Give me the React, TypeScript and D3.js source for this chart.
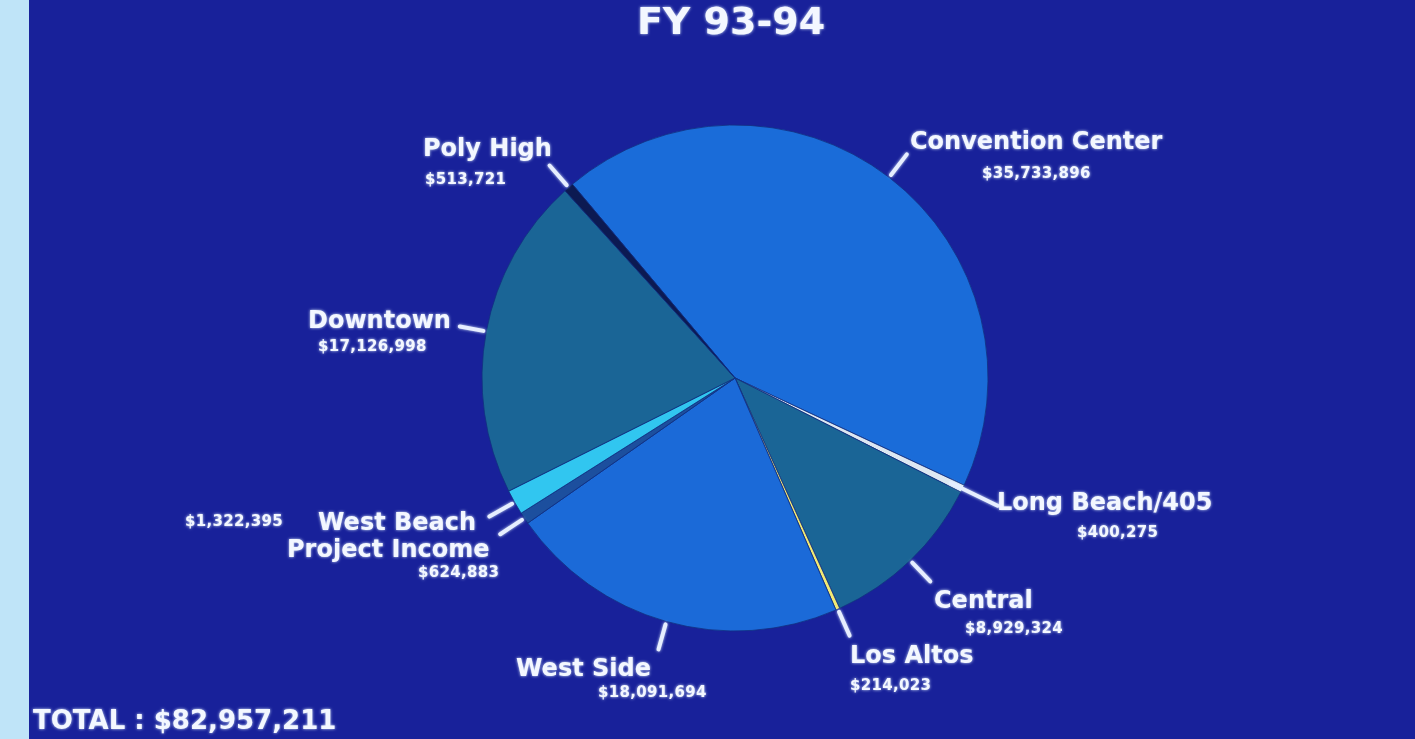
import React from "react";
import * as d3 from "d3";

const categories = [
  "Convention Center",
  "Long Beach/405",
  "Central",
  "Los Altos",
  "West Side",
  "Project Income",
  "West Beach",
  "Downtown",
  "Poly High",
];
const amounts = [35733896, 400275, 8929324, 214023, 18091694, 624883, 1322395, 17126998, 513721];
const sliceColors = ["#1a6cd9", "#dde8f2", "#1a6596", "#f2ea74", "#1b6ad8", "#1c4f9e", "#31c6f0", "#1a6596", "#0c1a52"];
const titleText = "FY 93-94";
const totalText = "TOTAL : $82,957,211";

// label layout (name position, value position, leader radii)
const labelLayout = [
  { nx: 910, ny: 149, vx: 982, vy: 178, r0: 256, r1: 282 },
  { nx: 997, ny: 510, vx: 1077, vy: 537, r0: 240, r1: 292 },
  { nx: 934, ny: 608, vx: 965, vy: 633, r0: 256, r1: 282 },
  { nx: 850, ny: 663, vx: 850, vy: 690, r0: 256, r1: 282 },
  { nx: 516, ny: 676, vx: 598, vy: 697, r0: 256, r1: 282 },
  { nx: 287, ny: 557, vx: 418, vy: 577, r0: 256, r1: 282 },
  { nx: 318, ny: 530, vx: 185, vy: 526, r0: 256, r1: 282 },
  { nx: 308, ny: 328, vx: 318, vy: 351, r0: 256, r1: 280 },
  { nx: 423, ny: 156, vx: 425, vy: 184, r0: 256, r1: 282 },
];

const W = 1415;
const H = 739;
const cx = 735;
const cy = 378;
const R = 253;

export default function App() {
  const fmt = d3.format("$,");
  const start = (-40 * Math.PI) / 180;
  const pie = d3
    .pie<number>()
    .sort(null)
    .value((d) => d)
    .startAngle(start)
    .endAngle(start + 2 * Math.PI);
  const arcs = pie(amounts);
  const arc = d3.arc<d3.PieArcDatum<number>>().innerRadius(0).outerRadius(R);
  const nameFont = "'DejaVu Sans', Arial, sans-serif";
  const textFill = "#f3f7ff";

  return (
    <div style={{ position: "absolute", left: 0, top: 0, width: W, height: H, overflow: "hidden" }}>
      <svg width={W} height={H} style={{ display: "block" }}>
        <defs>
          <filter id="glow" x="-10%" y="-30%" width="120%" height="160%">
            <feGaussianBlur in="SourceGraphic" stdDeviation="1.6" result="b" />
            <feColorMatrix
              in="b"
              type="matrix"
              values="0 0 0 0 0.75  0 0 0 0 0.88  0 0 0 0 1  0 0 0 0.9 0"
              result="c"
            />
            <feMerge>
              <feMergeNode in="c" />
              <feMergeNode in="SourceGraphic" />
            </feMerge>
          </filter>
        </defs>
        <rect x={0} y={0} width={W} height={H} fill="#18219a" />
        <rect x={0} y={0} width={29} height={H} fill="#bfe4f8" />

        <g transform={`translate(${cx},${cy})`}>
          {arcs.map((a, i) => (
            <path key={i} d={arc(a) || ""} fill={sliceColors[i]} stroke="#123080" strokeWidth={0.8} />
          ))}
        </g>

        <g filter="url(#glow)">
          <text
            x={731}
            y={34}
            textAnchor="middle"
            fontFamily={nameFont}
            fontWeight="bold"
            fontSize={38}
            fill={textFill}
          >
            {titleText}
          </text>

          {arcs.map((a, i) => {
            const L = labelLayout[i];
            const mid = (a.startAngle + a.endAngle) / 2;
            const x0 = cx + L.r0 * Math.sin(mid);
            const y0 = cy - L.r0 * Math.cos(mid);
            const x1 = cx + L.r1 * Math.sin(mid);
            const y1 = cy - L.r1 * Math.cos(mid);
            return (
              <g key={i}>
                <line
                  x1={x0}
                  y1={y0}
                  x2={x1}
                  y2={y1}
                  stroke="#e6eeff"
                  strokeWidth={4}
                  strokeLinecap="round"
                />
                <text
                  x={L.nx}
                  y={L.ny}
                  fontFamily={nameFont}
                  fontWeight="bold"
                  fontSize={24}
                  fill={textFill}
                >
                  {categories[i]}
                </text>
                <text
                  x={L.vx}
                  y={L.vy}
                  fontFamily={nameFont}
                  fontWeight="bold"
                  fontSize={15}
                  letterSpacing={0.3}
                  fill={textFill}
                >
                  {fmt(amounts[i])}
                </text>
              </g>
            );
          })}

          <text x={33} y={729} fontFamily={nameFont} fontWeight="bold" fontSize={26} fill={textFill}>
            {totalText}
          </text>
        </g>
      </svg>
    </div>
  );
}
